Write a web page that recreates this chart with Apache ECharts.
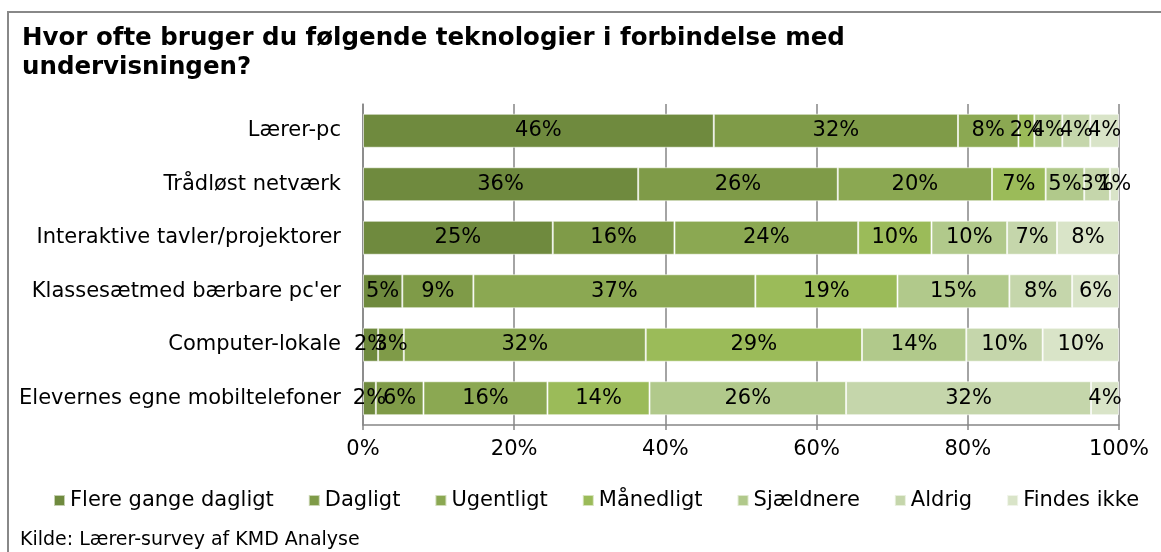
<!DOCTYPE html>
<html>
<head>
<meta charset="utf-8">
<script src="https://cdn.jsdelivr.net/npm/echarts@6.0.0/dist/echarts.min.js"></script>
<style>
  html, body { margin: 0; padding: 0; background: #fff; overflow: hidden; }
  #myChart { width: 1161px; height: 552px; }
</style>
</head>
<body>
<div id="myChart"></div>
<script>
// kategorier (oppefra og ned)
var categories = ['Lærer-pc', 'Trådløst netværk', 'Interaktive tavler/projektorer',
  "Klassesætmed bærbare pc'er", 'Computer-lokale', 'Elevernes egne mobiltelefoner'];

// svar-kategorier
var seriesNames = ['Flere gange dagligt', 'Dagligt', 'Ugentligt', 'Månedligt', 'Sjældnere', 'Aldrig', 'Findes ikke'];

// andele i procent pr. svar
var flereGange = [46.4, 36.4, 25.1, 5.2, 2.0, 1.7];
var dagligt = [32.3, 26.4, 16.1, 9.4, 3.4, 6.3];
var ugentligt = [8.0, 20.4, 24.3, 37.3, 32.0, 16.4];
var maanedligt = [2.1, 7.1, 9.7, 18.8, 28.6, 13.5];
var sjaeldnere = [3.7, 5.1, 10.0, 14.8, 13.8, 26.0];
var aldrig = [3.7, 3.4, 6.6, 8.3, 10.1, 32.4];
var findesIkke = [3.8, 1.2, 8.2, 6.2, 10.1, 3.7];

var xTicks = [0, 20, 40, 60, 80, 100];

var colors = ['#6f8a3e', '#7f9b48', '#8ba852', '#9bbb59', '#b1c98b', '#c5d6ab', '#d9e4c8'];
var fontFamily = '"DejaVu Sans", Verdana, sans-serif';

var seriesData = [flereGange, dagligt, ugentligt, maanedligt, sjaeldnere, aldrig, findesIkke];

var myChart = echarts.init(document.getElementById('myChart'));

myChart.setOption({
  animation: false,
  textStyle: {fontFamily: fontFamily, color: '#000'},
  color: colors,
  title: {
    text: 'Hvor ofte bruger du følgende teknologier i forbindelse med\nundervisningen?',
    left: 17,
    top: 19,
    textStyle: {fontSize: 24.5, fontWeight: 'bold', color: '#000', lineHeight: 29, fontFamily: fontFamily}
  },
  legend: {
    left: 48,
    top: 485,
    itemWidth: 11,
    itemHeight: 11,
    itemGap: 34,
    icon: 'rect',
    textStyle: {fontSize: 21, color: '#000', fontFamily: fontFamily},
    data: seriesNames
  },
  grid: {left: 363, right: 42, top: 104, height: 321, containLabel: false},
  xAxis: {
    type: 'value',
    min: xTicks[0],
    max: xTicks[xTicks.length - 1],
    interval: 20,
    axisLine: {show: true, lineStyle: {color: '#868686', width: 1.5}},
    axisTick: {show: true, length: 5, lineStyle: {color: '#868686', width: 1.5}},
    splitLine: {show: true, lineStyle: {color: '#868686', width: 1.5}},
    axisLabel: {formatter: '{value}%', fontSize: 21, color: '#000', margin: 14}
  },
  yAxis: {
    type: 'category',
    inverse: true,
    data: categories,
    axisLine: {show: true, lineStyle: {color: '#868686', width: 1.5}},
    axisTick: {show: false},
    axisLabel: {fontSize: 21, color: '#000', margin: 22}
  },
  graphic: [
    {
      // ramme omkring diagrammet
      type: 'rect',
      shape: {x: 8, y: 12, width: 2000, height: 2000},
      style: {fill: 'none', stroke: '#888', lineWidth: 2},
      silent: true
    },
    {
      type: 'text',
      left: 20,
      top: 531,
      style: {text: 'Kilde: Lærer-survey af KMD Analyse', fill: '#000', font: '19px ' + fontFamily}
    }
  ],
  series: seriesNames.map(function (name, i) {
    return {
      name: name,
      type: 'bar',
      stack: 'total',
      barWidth: 34,
      data: seriesData[i],
      itemStyle: {borderColor: 'rgba(255,255,255,0.6)', borderWidth: 1},
      label: {
        show: true,
        position: 'inside',
        color: '#000',
        fontSize: 21,
        fontFamily: fontFamily,
        formatter: function (p) { return Math.round(p.value) + '%'; }
      }
    };
  })
});
</script>
</body>
</html>
